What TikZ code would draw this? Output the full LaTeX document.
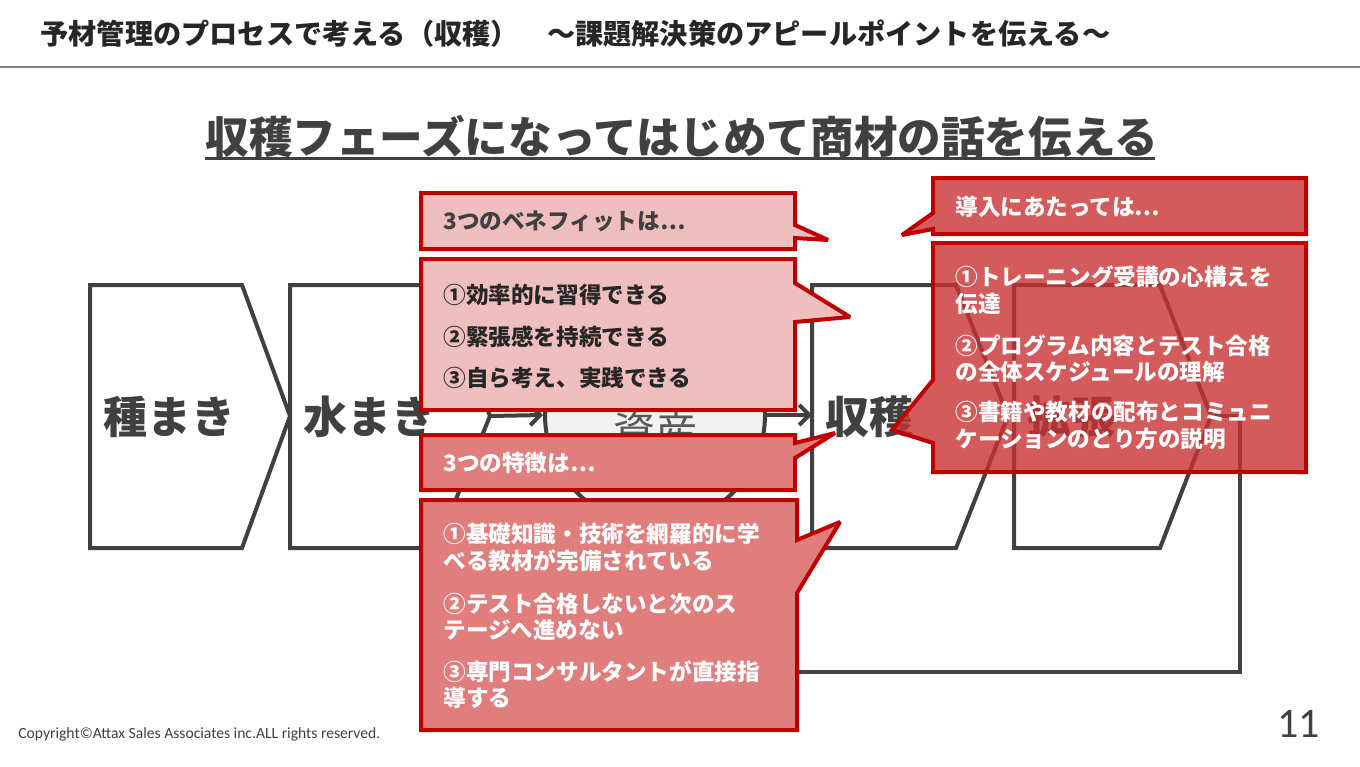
\documentclass[tikz,border=0pt]{standalone}
\usepackage{fontspec}
\setmainfont{Noto Sans CJK JP}
\newfontfamily\latinfont{Carlito}
\usetikzlibrary{arrows.meta}
\definecolor{dg}{HTML}{404040}
\definecolor{hdr}{HTML}{262626}
\definecolor{rulec}{HTML}{808080}
\definecolor{cred}{HTML}{C00000}
\definecolor{pinkfill}{RGB}{239,190,190}
\definecolor{midfill}{RGB}{224,125,125}
\definecolor{deepfill}{RGB}{200,50,50}
\definecolor{circfill}{HTML}{F2F2F2}
\definecolor{assetc}{HTML}{595959}
\tikzset{
  chev/.style={draw=dg, line width=2pt, fill=white, line join=miter},
  calloutbox/.style={draw=cred, line width=2pt, line join=miter, miter limit=3},
  calltext/.style={anchor=base west, inner sep=0pt, font=\fontsize{11.3}{13}\selectfont\bfseries},
  chevtext/.style={anchor=base west, inner sep=0pt, text=dg, font=\fontsize{22}{26}\selectfont\bfseries},
  flow/.style={draw=dg, line width=2pt, -{Straight Barb[length=5pt,width=10pt]}},
  loopline/.style={draw=dg, line width=2pt, line join=miter}
}
\begin{document}
\begin{tikzpicture}[x=0.5pt,y=-0.5pt]
\useasboundingbox[fill=white] (0,0) rectangle (1360,766);

% header
\node[anchor=base west, inner sep=0pt, text=hdr, font=\fontsize{14.1}{16}\selectfont\bfseries] (title) at (40,44) {予材管理のプロセスで考える（収穫）　～課題解決策のアピールポイントを伝える～};
\coordinate (ruleL) at (0,67);
\coordinate (ruleR) at (1360,67);
\draw[rulec, line width=1pt] (ruleL) -- (ruleR);

% heading
\node[anchor=base west, inner sep=0pt, text=dg, font=\fontsize{21.8}{26}\selectfont\bfseries] (heading) at (205,153) {収穫フェーズになってはじめて商材の話を伝える};
\coordinate (ulL) at (205,158);
\coordinate (ulR) at (1155,158);
\draw[dg, line width=1.5pt] (ulL) -- (ulR);

% chevrons
\draw[chev] (90,285) -- (242,285) -- (290,416) coordinate (tip1) -- (242,548) -- (90,548) -- cycle;
\draw[chev] (290,285) -- (436,285) -- (490,416) coordinate (tip2) -- (436,548) -- (290,548) -- cycle;
\draw[chev] (812,285) -- (956,285) -- (1008,416) coordinate (tip3) -- (956,548) -- (812,548) -- cycle;
\coordinate (left3) at (812,415);
\draw[chev] (1014,285) -- (1160,285) -- (1211,416) coordinate (tip4) -- (1160,548) -- (1014,548) -- cycle;

\node[chevtext] (seed) at (103,433) {種まき};
\node[chevtext] (water) at (303,433) {水まき};
\node[chevtext] (harvest) at (825,433) {収穫};
\node[chevtext] (expand) at (1027,433) {拡張};

% asset circle
\node[circle, draw=dg, fill=circfill, line width=2pt, minimum size=110pt, inner sep=0pt] (asset) at (655,415) {};
\node[inner sep=0pt, text=assetc, font=\fontsize{21}{24}\selectfont] (assettext) at (655,432) {資産};
\draw[flow] (tip2) -- (asset.west);
\draw[flow] (asset.east) -- (left3);

% loop line
\coordinate (loopA) at (1240,416);
\coordinate (loopB) at (1240,672);
\coordinate (loopC) at (600,672);
\draw[loopline] (tip4) -- (loopA) -- (loopB) -- (loopC);

% callout A
\draw[calloutbox, fill=pinkfill] (421,193) -- (795,193) -- (795,225) -- (828,240) -- (795,238) -- (795,249) -- (421,249) -- cycle;
\node[calltext, text=dg] (benefitHead) at (443,229) {3つのベネフィットは⋯};

% callout B
\draw[calloutbox, fill=pinkfill] (421,259) -- (795,259) -- (795,283) -- (850,317) -- (795,322) -- (795,410) -- (421,410) -- cycle;
\node[calltext, text=hdr] (b1) at (443,303) {①効率的に習得できる};
\node[calltext, text=hdr] (b2) at (443,345) {②緊張感を持続できる};
\node[calltext, text=hdr] (b3) at (443,386) {③自ら考え、実践できる};

% callout C
\draw[calloutbox, fill=midfill] (421,435) -- (795,435) -- (795,443) -- (835,433) -- (795,458) -- (795,490) -- (421,490) -- cycle;
\node[calltext, text=white] (featHead) at (443,471) {3つの特徴は⋯};

% callout D
\draw[calloutbox, fill=midfill] (421,500) -- (797,500) -- (797,540) -- (840,522) -- (797,593) -- (797,730) -- (421,730) -- cycle;
\node[calltext, text=white] (d1) at (443,542) {①基礎知識・技術を網羅的に学};
\node[calltext, text=white] (d2) at (443,569) {べる教材が完備されている};
\node[calltext, text=white] (d3) at (443,612) {②テスト合格しないと次のス};
\node[calltext, text=white] (d4) at (443,638) {テージへ進めない};
\node[calltext, text=white] (d5) at (443,680) {③専門コンサルタントが直接指};
\node[calltext, text=white] (d6) at (443,706) {導する};

% callout E
\draw[calloutbox, fill=deepfill, fill opacity=0.8] (933,178) -- (1306,178) -- (1306,234) -- (933,234) -- (933,229) -- (902,235) -- (933,213) -- cycle;
\node[calltext, text=white] (introHead) at (955,215) {導入にあたっては⋯};

% callout F
\draw[calloutbox, fill=deepfill, fill opacity=0.8] (933,243) -- (1306,243) -- (1306,472) -- (933,472) -- (933,443) -- (892,430) -- (933,380) -- cycle;
\node[calltext, text=white] (f1) at (955,285) {①トレーニング受講の心構えを};
\node[calltext, text=white] (f2) at (955,312) {伝達};
\node[calltext, text=white] (f3) at (955,354) {②プログラム内容とテスト合格};
\node[calltext, text=white] (f4) at (955,380) {の全体スケジュールの理解};
\node[calltext, text=white] (f5) at (955,420) {③書籍や教材の配布とコミュニ};
\node[calltext, text=white] (f6) at (955,447) {ケーションのとり方の説明};

% footer
\node[anchor=west, inner sep=0pt, text=dg, font=\latinfont\fontsize{7.8}{9}\selectfont] (copy) at (18,734) {Copyright©Attax Sales Associates inc.ALL rights reserved.};
\node[anchor=east, inner sep=0pt, text=dg, font=\latinfont\fontsize{21}{24}\selectfont] (page) at (1320,724) {11};
\end{tikzpicture}
\end{document}
